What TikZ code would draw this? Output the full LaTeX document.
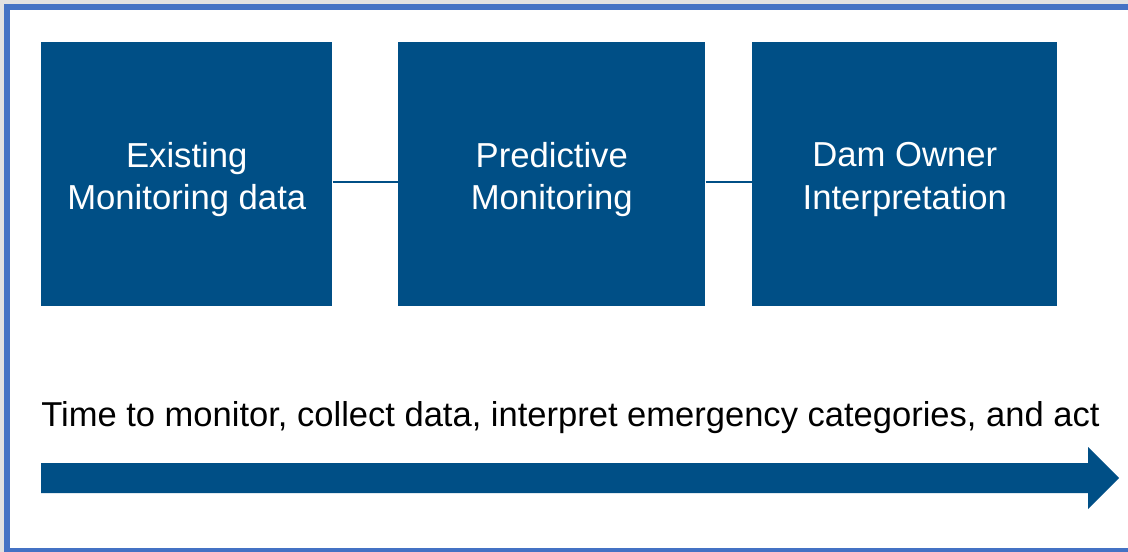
\documentclass[tikz,border=0pt]{standalone}
\usepackage{fontspec}
\setmainfont{Liberation Sans}
\usepackage{xcolor}
\usetikzlibrary{positioning}

\definecolor{damblue}{RGB}{0,79,134}
\definecolor{framecol}{RGB}{68,114,196}
\definecolor{outside}{RGB}{225,225,225}

\begin{document}
\begin{tikzpicture}[
x=0.75pt, y=-0.75pt,
stage/.style={fill=damblue, minimum height=198pt, anchor=north west, inner sep=0pt},
stagetext/.style={align=center, text=white, yshift=-4pt, font=\fontsize{26}{32}\selectfont},
link/.style={draw=damblue, line width=1.5pt}
]
\useasboundingbox (0,0) rectangle (1128,552);
\fill[outside] (0,0) rectangle (1128,552);
% framed panel, runs off the right edge
\begin{scope}
\clip (0,0) rectangle (1128,552);
\draw[framecol, fill=white, line width=4.5pt] (7,7) rectangle (1140,551);
\end{scope}

\node[stage, minimum width=218.25pt, label={[stagetext]center:Existing\\Monitoring data}] (existing) at (41,42) {};
\node[stage, minimum width=230.25pt, label={[stagetext]center:Predictive\\Monitoring}] (predictive) at (398,42) {};
\node[stage, minimum width=228.75pt, label={[stagetext]center:Dam Owner\\Interpretation}] (owner) at (752,42) {};

\draw[link] ([yshift=-6pt]existing.east) -- ([yshift=-6pt]predictive.west);
\draw[link] ([yshift=-6pt]predictive.east) -- ([yshift=-6pt]owner.west);

\node[anchor=base west, inner sep=0pt, font=\fontsize{25.9}{30}\selectfont] (timeline) at (41,426)
  {Time to monitor, collect data, interpret emergency categories, and act};

% time arrow
\fill[damblue] (41,463) -- (1088,463) -- (1088,447) -- (1119,478)
  -- (1088,509) -- (1088,493) -- (41,493) -- cycle;
\end{tikzpicture}
\end{document}
